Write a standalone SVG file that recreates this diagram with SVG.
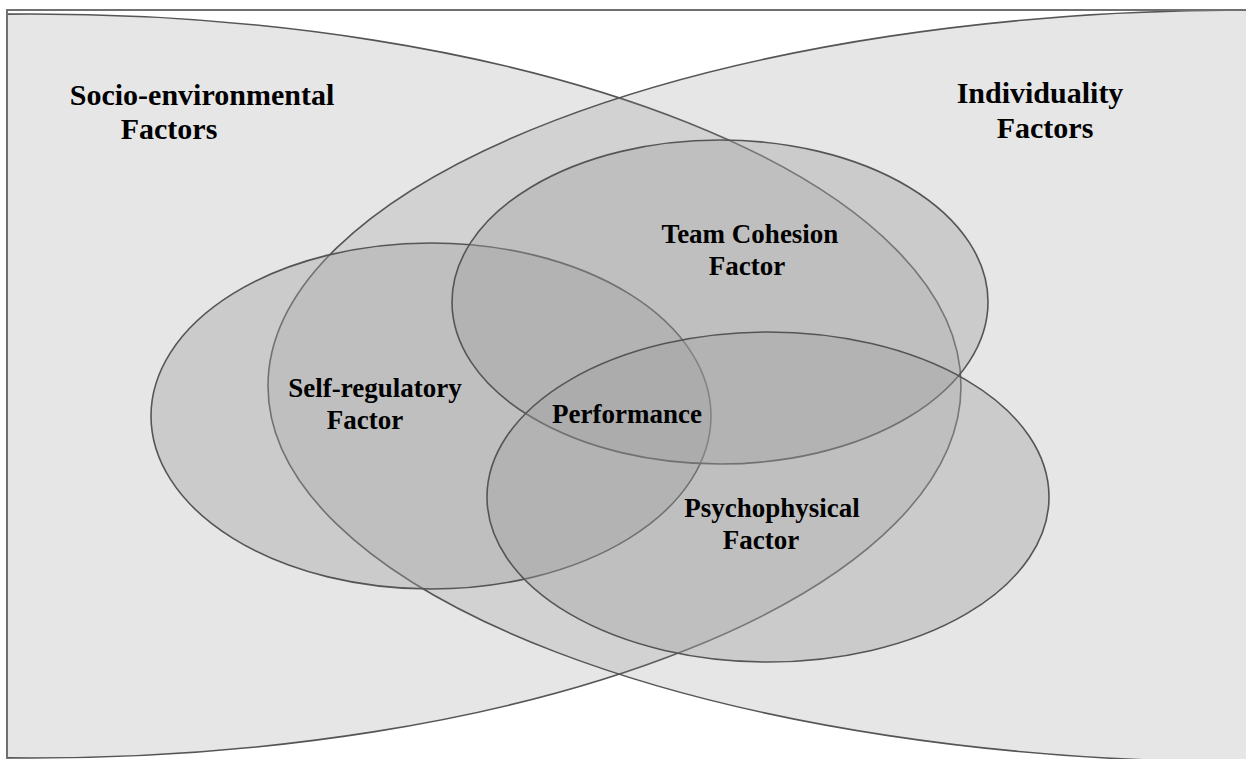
<svg xmlns="http://www.w3.org/2000/svg" width="1246" height="759" viewBox="0 0 1246 759">
<style>
.big{fill:#808080;fill-opacity:0.2;stroke:#555;stroke-width:1.6}
.small{fill:#a1a1a1;fill-opacity:0.38;stroke:#555;stroke-width:1.6}
.lbl{font-family:"Liberation Serif","Times New Roman",serif;font-weight:bold;fill:#000;text-anchor:middle}
.l30{font-size:30px}
.l27{font-size:27px}
</style>
<defs>
<clipPath id="frameClip"><rect x="7" y="10" width="1250" height="760"/></clipPath>
</defs>
<rect x="0" y="0" width="1246" height="759" fill="#fff"/>
<g id="big-ellipses" clip-path="url(#frameClip)">
<g id="socio-environmental"><ellipse class="big" cx="31" cy="386" rx="930" ry="372"/></g>
<g id="individuality"><ellipse class="big" cx="1250" cy="386" rx="982" ry="376"/></g>
</g>
<rect id="frame" x="7" y="10" width="1250" height="760" fill="none" stroke="#707070" stroke-width="2"/>
<g id="self-regulatory"><ellipse class="small" cx="431" cy="416" rx="280" ry="173"/></g>
<g id="team-cohesion"><ellipse class="small" cx="720" cy="302" rx="268" ry="162"/></g>
<g id="psychophysical"><ellipse class="small" cx="768" cy="497" rx="281" ry="165"/></g>
<g id="connectors"></g>
<g id="labels">
<text class="lbl l30" x="202" y="105">Socio-environmental</text>
<text class="lbl l30" x="169" y="139">Factors</text>
<text class="lbl l30" x="1040" y="103">Individuality</text>
<text class="lbl l30" x="1045" y="138">Factors</text>
<text class="lbl l27" x="750" y="243">Team Cohesion</text>
<text class="lbl l27" x="747" y="275">Factor</text>
<text class="lbl l27" x="375" y="397">Self-regulatory</text>
<text class="lbl l27" x="365" y="429">Factor</text>
<text class="lbl l27" x="627" y="423">Performance</text>
<text class="lbl l27" x="772" y="517">Psychophysical</text>
<text class="lbl l27" x="761" y="549">Factor</text>
</g>
</svg>
